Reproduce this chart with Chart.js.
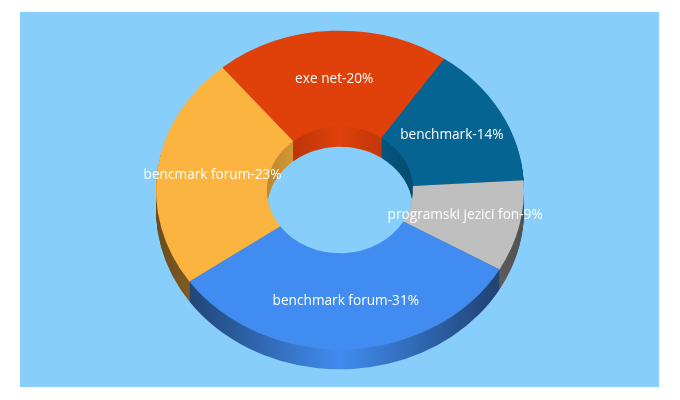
<!DOCTYPE html>
<html>
<head>
<meta charset="utf-8">
<script src="https://cdn.jsdelivr.net/npm/chart.js@4"></script>
<style>
  body { margin: 0; background: #fff; }
  #frame { position: absolute; left: 20px; top: 12px; width: 639px; height: 375px; background: #87cefa; }
  #c { position: absolute; left: 0; top: 0; }
</style>
</head>
<body>
<div id="frame"></div>
<canvas id="c" width="680" height="400"></canvas>
<script>
const names = ['exe net', 'benchmark', 'programski jezici fon', 'benchmark forum', 'bencmark forum'];
const values = [20, 14, 9, 31, 23];
const colors = ['#e0400a', '#056492', '#bfbfbf', '#418cf0', '#fcb441'];

const depth = 20;      // height of the side wall in px
const centerY = 190;   // where the top face really sits
const squash = 0.866;  // tilt of the ring

function shade(hex, f) {
  const n = parseInt(hex.slice(1), 16);
  return 'rgb(' + Math.round((n >> 16) * f) + ',' + Math.round(((n >> 8) & 255) * f) + ',' + Math.round((n & 255) * f) + ')';
}

// light in the middle, darker to the sides
function wallFill(ctx, hex, x0, x1, stops) {
  const g = ctx.createLinearGradient(x0, 0, x1, 0);
  stops.forEach(s => g.addColorStop(s[0], shade(hex, s[1])));
  return g;
}

function tilt(ctx, el) {
  ctx.translate(el.x, centerY);
  ctx.scale(1, squash);
  ctx.translate(-el.x, -el.y);
}

function sector(ctx, el, dy) {
  const y = el.y + dy / squash;
  ctx.beginPath();
  ctx.arc(el.x, y, el.outerRadius, el.startAngle, el.endAngle);
  ctx.arc(el.x, y, el.innerRadius, el.endAngle, el.startAngle, true);
  ctx.closePath();
}

const ring3d = {
  id: 'ring3d',
  beforeDatasetsDraw(chart) {
    const ctx = chart.ctx;
    const arcs = chart.getDatasetMeta(0).data;
    const first = arcs[0];
    const R = first.outerRadius, r = first.innerRadius;
    ctx.save();
    tilt(ctx, first);

    // outer wall, hole kept empty
    ctx.save();
    ctx.beginPath();
    ctx.rect(0, -200, 680, 800);
    ctx.arc(first.x, first.y, r, 0, Math.PI * 2);
    ctx.clip('evenodd');
    for (let dy = depth; dy > 0; dy--) {
      arcs.forEach((el, i) => {
        ctx.fillStyle = wallFill(ctx, colors[i], first.x - R, first.x + R, [[0, 0.42], [0.09, 0.5], [0.5, 1], [0.91, 0.5], [1, 0.42]]);
        sector(ctx, el, dy);
        ctx.fill();
      });
    }
    ctx.restore();

    // inner wall seen through the hole
    ctx.save();
    ctx.beginPath();
    ctx.arc(first.x, first.y, r, 0, Math.PI * 2);
    ctx.clip();
    for (let dy = depth; dy > 0; dy--) {
      arcs.forEach((el, i) => {
        ctx.fillStyle = wallFill(ctx, colors[i], first.x - r, first.x + r, [[0, 0.75], [0.5, 1], [1, 0.75]]);
        sector(ctx, el, dy);
        ctx.fill();
      });
    }
    ctx.restore();
    ctx.restore();

    // top face gets drawn by chart.js under this transform
    ctx.save();
    tilt(ctx, first);
  },
  afterDatasetsDraw(chart) {
    chart.ctx.restore();
  },
  afterDraw(chart) {
    const ctx = chart.ctx;
    ctx.save();
    ctx.font = '13.65px "Open Sans"';
    ctx.fillStyle = '#fff';
    ctx.textAlign = 'center';
    ctx.textBaseline = 'middle';
    chart.getDatasetMeta(0).data.forEach((el, i) => {
      const p = el.getCenterPoint();
      ctx.fillText(names[i] + '-' + values[i] + '%', p.x, centerY + (p.y - el.y) * squash);
    });
    ctx.restore();
  }
};

new Chart(document.getElementById('c').getContext('2d'), {
  type: 'doughnut',
  data: {
    labels: names,
    datasets: [{ data: values, backgroundColor: colors, borderWidth: 0, clip: false }]
  },
  options: {
    responsive: false,
    animation: false,
    rotation: -39.7,
    cutout: '39.7%',
    layout: { padding: { top: 16, bottom: 16 } },
    plugins: { legend: { display: false }, tooltip: { enabled: false } }
  },
  plugins: [ring3d]
});
</script>
</body>
</html>
